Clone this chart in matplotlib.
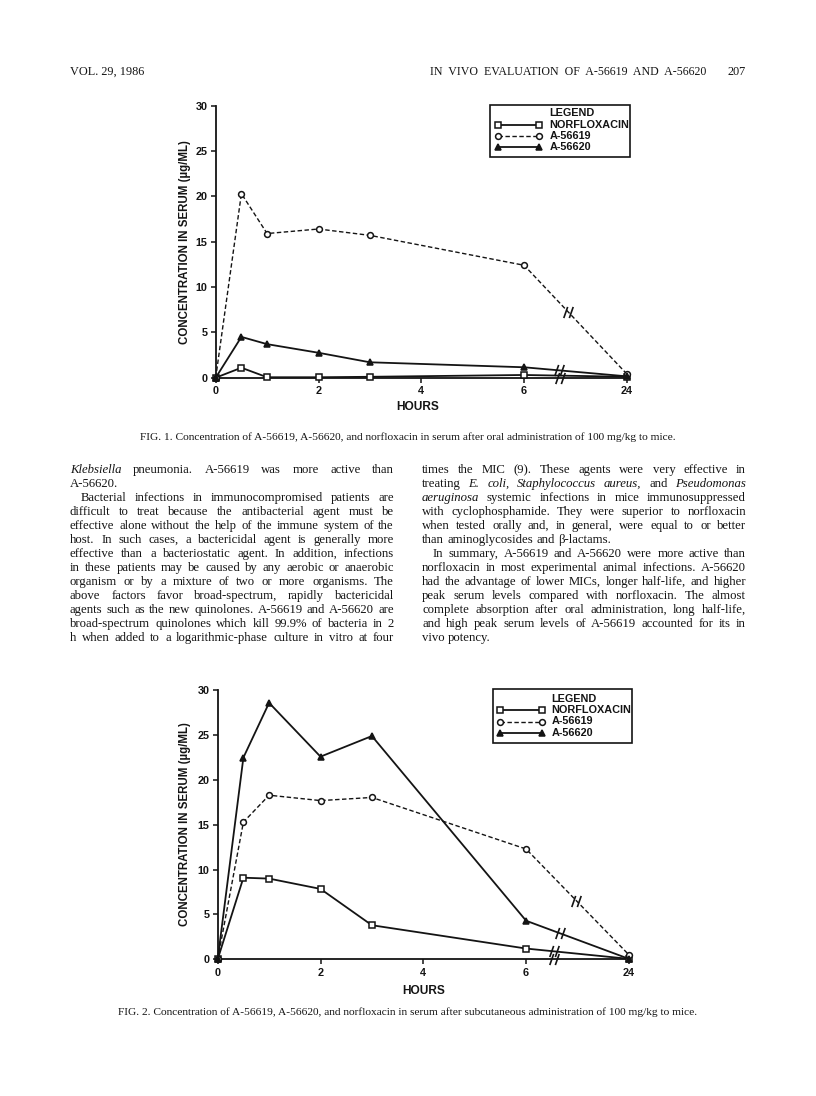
import numpy as np
import matplotlib
matplotlib.use('Agg')
import matplotlib.pyplot as plt
from matplotlib.path import Path
from matplotlib.font_manager import FontProperties
from matplotlib.lines import Line2D
from matplotlib.patches import Rectangle

W, H = 816, 1096

# data (concentration in serum, ug/mL)
hours = [0, 0.5, 1, 2, 3, 6, 24]
tick_hours = [0, 2, 4, 6, 24]
conc_ticks = [0, 5, 10, 15, 20, 25, 30]
series_names = ['NORFLOXACIN', 'A-56619', 'A-56620']

fig1_norfloxacin = [0, 1.1, 0.05, 0.05, 0.1, 0.3, 0.1]
fig1_a56619 = [0, 20.3, 15.9, 16.4, 15.7, 12.4, 0.4]
fig1_a56620 = [0, 4.5, 3.7, 2.75, 1.7, 1.15, 0.15]

fig2_norfloxacin = [0, 9.1, 9.0, 7.85, 3.8, 1.2, 0.05]
fig2_a56619 = [0, 15.3, 18.3, 17.7, 18.05, 12.3, 0.5]
fig2_a56620 = [0, 22.5, 28.6, 22.6, 24.9, 4.3, 0.05]

caption1 = ('FIG. 1. Concentration of A-56619, A-56620, and norfloxacin in serum '
            'after oral administration of 100 mg/kg to mice.')
caption2 = ('FIG. 2. Concentration of A-56619, A-56620, and norfloxacin in serum '
            'after subcutaneous administration of 100 mg/kg to mice.')

# body text, '*' marks italic words, '>' marks a paragraph indent,
# '|' at the end marks a paragraph's last (not justified) line
left_lines = [
    '*Klebsiella pneumonia. A-56619 was more active than',
    'A-56620.|',
    '>Bacterial infections in immunocompromised patients are',
    'difficult to treat because the antibacterial agent must be',
    'effective alone without the help of the immune system of the',
    'host. In such cases, a bactericidal agent is generally more',
    'effective than a bacteriostatic agent. In addition, infections',
    'in these patients may be caused by any aerobic or anaerobic',
    'organism or by a mixture of two or more organisms. The',
    'above factors favor broad-spectrum, rapidly bactericidal',
    'agents such as the new quinolones. A-56619 and A-56620 are',
    'broad-spectrum quinolones which kill 99.9% of bacteria in 2',
    'h when added to a logarithmic-phase culture in vitro at four',
]
right_lines = [
    'times the MIC (9). These agents were very effective in',
    'treating *E. *coli, *Staphylococcus *aureus, and *Pseudomonas',
    '*aeruginosa systemic infections in mice immunosuppressed',
    'with cyclophosphamide. They were superior to norfloxacin',
    'when tested orally and, in general, were equal to or better',
    'than aminoglycosides and \u03b2-lactams.|',
    '>In summary, A-56619 and A-56620 were more active than',
    'norfloxacin in most experimental animal infections. A-56620',
    'had the advantage of lower MICs, longer half-life, and higher',
    'peak serum levels compared with norfloxacin. The almost',
    'complete absorption after oral administration, long half-life,',
    'and high peak serum levels of A-56619 accounted for its in',
    'vivo potency.|',
]

INK = '#141414'
SANS = 'Liberation Sans'
SERIF = 'Liberation Serif'

fig = plt.figure(figsize=(W / 100, H / 100), dpi=100)
fig.patch.set_facecolor('white')


def fx(x):
    return x / W


def fy(y):
    return 1 - y / H


def xpos(h):
    # 0-6 h on a linear scale, then an axis break and 24 h one tick step later
    h = np.asarray(h, dtype=float)
    return np.where(h <= 6, h, 8.0)


brk = Path([(-0.85, -1.0), (-0.15, 1.0), (0.15, -1.0), (0.85, 1.0)],
           [Path.MOVETO, Path.LINETO, Path.MOVETO, Path.LINETO])

styles = {
    'NORFLOXACIN': dict(ls='-', marker='s', ms=4.6, mfc='white', lw=1.3),
    'A-56619': dict(ls=(0, (3.2, 1.8)), marker='o', ms=4.2, mfc='white', lw=1.0),
    'A-56620': dict(ls='-', marker='^', ms=5.0, mfc=INK, lw=1.3),
}


def draw_chart(left, top, bottom, values, breaks, axis_break, legend, ylab_y, hours_xy):
    unit = 51.4
    ax = fig.add_axes([fx(left), fy(bottom), 8.05 * unit / W, (bottom - top) / H])
    ax.set_xlim(0, 8.05)
    ax.set_ylim(0, 30)
    for s in ['top', 'right']:
        ax.spines[s].set_visible(False)
    for s in ['left', 'bottom']:
        ax.spines[s].set_linewidth(1.3)
        ax.spines[s].set_color(INK)
    ax.set_xticks(xpos(tick_hours))
    ax.set_xticklabels([str(h) for h in tick_hours])
    ax.set_yticks(conc_ticks)
    ax.tick_params(direction='out', length=3.5, width=1.1, color=INK,
                   labelsize=7.8, pad=2.5, labelcolor=INK)
    for lab in ax.get_xticklabels() + ax.get_yticklabels():
        lab.set_fontweight('bold')
        lab.set_family(SANS)

    for name, vals in zip(series_names, values):
        st = styles[name]
        ax.plot(xpos(hours), vals, color=INK, mec=INK, mew=1.1, clip_on=False,
                zorder=3, **st)
        bx = breaks[name]
        if bx is not None:
            by = np.interp(bx, xpos(hours), vals)
            ax.plot([bx], [by], marker=brk, ms=8, mew=1.2, color=INK,
                    ls='none', clip_on=False, zorder=4)
    ax.plot([axis_break], [0], marker=brk, ms=8, mew=1.2, color=INK,
            ls='none', clip_on=False, zorder=4)

    fig.text(fx(185), fy(ylab_y), 'CONCENTRATION IN SERUM (\u00b5g/ML)', rotation=90,
             ha='center', va='center', fontsize=8.3, fontweight='bold',
             family=SANS, color=INK)
    fig.text(fx(hours_xy[0]), fy(hours_xy[1]), 'HOURS', ha='center', va='center',
             fontsize=8.6, fontweight='bold', family=SANS, color=INK)

    # legend box
    l, t, r, b, rows, x0, x1, tx = legend
    fig.add_artist(Rectangle((fx(l), fy(b)), (r - l) / W, (b - t) / H,
                             transform=fig.transFigure, fill=False,
                             lw=1.2, ec=INK))
    fig.text(fx(tx), fy(rows[0]), 'LEGEND', ha='left', va='center', fontsize=7.8,
             fontweight='bold', family=SANS, color=INK)
    for name, ry in zip(series_names, rows[1:]):
        st = styles[name]
        fig.add_artist(Line2D([fx(x0), fx(x1)], [fy(ry), fy(ry)],
                              transform=fig.transFigure, color=INK, mec=INK,
                              mew=1.1, **st))
        fig.text(fx(tx), fy(ry), name, ha='left', va='center', fontsize=7.8,
                 fontweight='bold', family=SANS, color=INK)
    return ax


draw_chart(215.7, 105.7, 377.7,
           [fig1_norfloxacin, fig1_a56619, fig1_a56620],
           {'NORFLOXACIN': None, 'A-56619': 6.86, 'A-56620': 6.67}, 6.7,
           (490, 105, 630, 157, [113.5, 124.7, 136, 147.3], 498.3, 539.3, 549.3),
           242, (418, 407))

draw_chart(217.7, 690.3, 959.3,
           [fig2_norfloxacin, fig2_a56619, fig2_a56620],
           {'NORFLOXACIN': 6.54, 'A-56619': 6.98, 'A-56620': 6.65}, 6.54,
           (493.3, 689, 632, 742.7, [699.3, 710, 721.5, 733], 500, 542.3, 551.7),
           824, (424, 991))

# ---- page text ----
renderer = fig.canvas.get_renderer()


def fprop(size, italic=False):
    return FontProperties(family=SERIF, size=size,
                          style='italic' if italic else 'normal')


def width(s, fp):
    return renderer.get_text_width_height_descent(s, fp, ismath=False)[0]


def parse(line):
    last = line.endswith('|')
    indent = line.startswith('>')
    line = line.strip('|>')
    words = [(w.lstrip('*'), w.startswith('*')) for w in line.split(' ')]
    return words, last, indent


COL_W = 324.0
INDENT = 11.0

# pick body size so that the widest justified line just fits
base = 10.0
nat = []
for line in left_lines + right_lines:
    words, last, indent = parse(line)
    if last:
        continue
    ws = sum(width(w, fprop(base, it)) for w, it in words)
    sp = width('a a', fprop(base)) - width('aa', fprop(base))
    nat.append(ws + sp * (len(words) - 1))
body_size = base * 0.975 * COL_W / max(nat)


def set_column(lines, x_left, y_first, step):
    sp = width('a a', fprop(body_size)) - width('aa', fprop(body_size))
    for i, line in enumerate(lines):
        words, last, indent = parse(line)
        x0 = x_left + (INDENT if indent else 0)
        avail = x_left + COL_W - x0
        ws = [width(w, fprop(body_size, it)) for w, it in words]
        if last or len(words) == 1:
            gap = sp
        else:
            gap = (avail - sum(ws)) / (len(words) - 1)
        x = x0
        y = y_first + i * step
        for (w, it), wd in zip(words, ws):
            fig.text(fx(x), fy(y), w, ha='left', va='baseline',
                     fontproperties=fprop(body_size, it), color=INK)
            x += wd + gap


set_column(left_lines, 70, 473, 14)
set_column(right_lines, 422, 473, 14)

fig.text(fx(408), fy(437), caption1, ha='center', va='center',
         fontproperties=fprop(8.2), color=INK)
fig.text(fx(408), fy(1012), caption2, ha='center', va='center',
         fontproperties=fprop(8.2), color=INK)

# running head
fig.text(fx(70), fy(72), 'VOL. 29, 1986', ha='left', va='center',
         fontproperties=fprop(8.8), color=INK)
fig.text(fx(430), fy(72), '  '.join('IN VIVO EVALUATION OF A-56619 AND A-56620'.split()),
         ha='left', va='center', fontproperties=fprop(8.6), color=INK)
fig.text(fx(746), fy(72), '207', ha='right', va='center',
         fontproperties=fprop(8.8), color=INK)

fig.savefig('out.png', dpi=100, facecolor='white')
